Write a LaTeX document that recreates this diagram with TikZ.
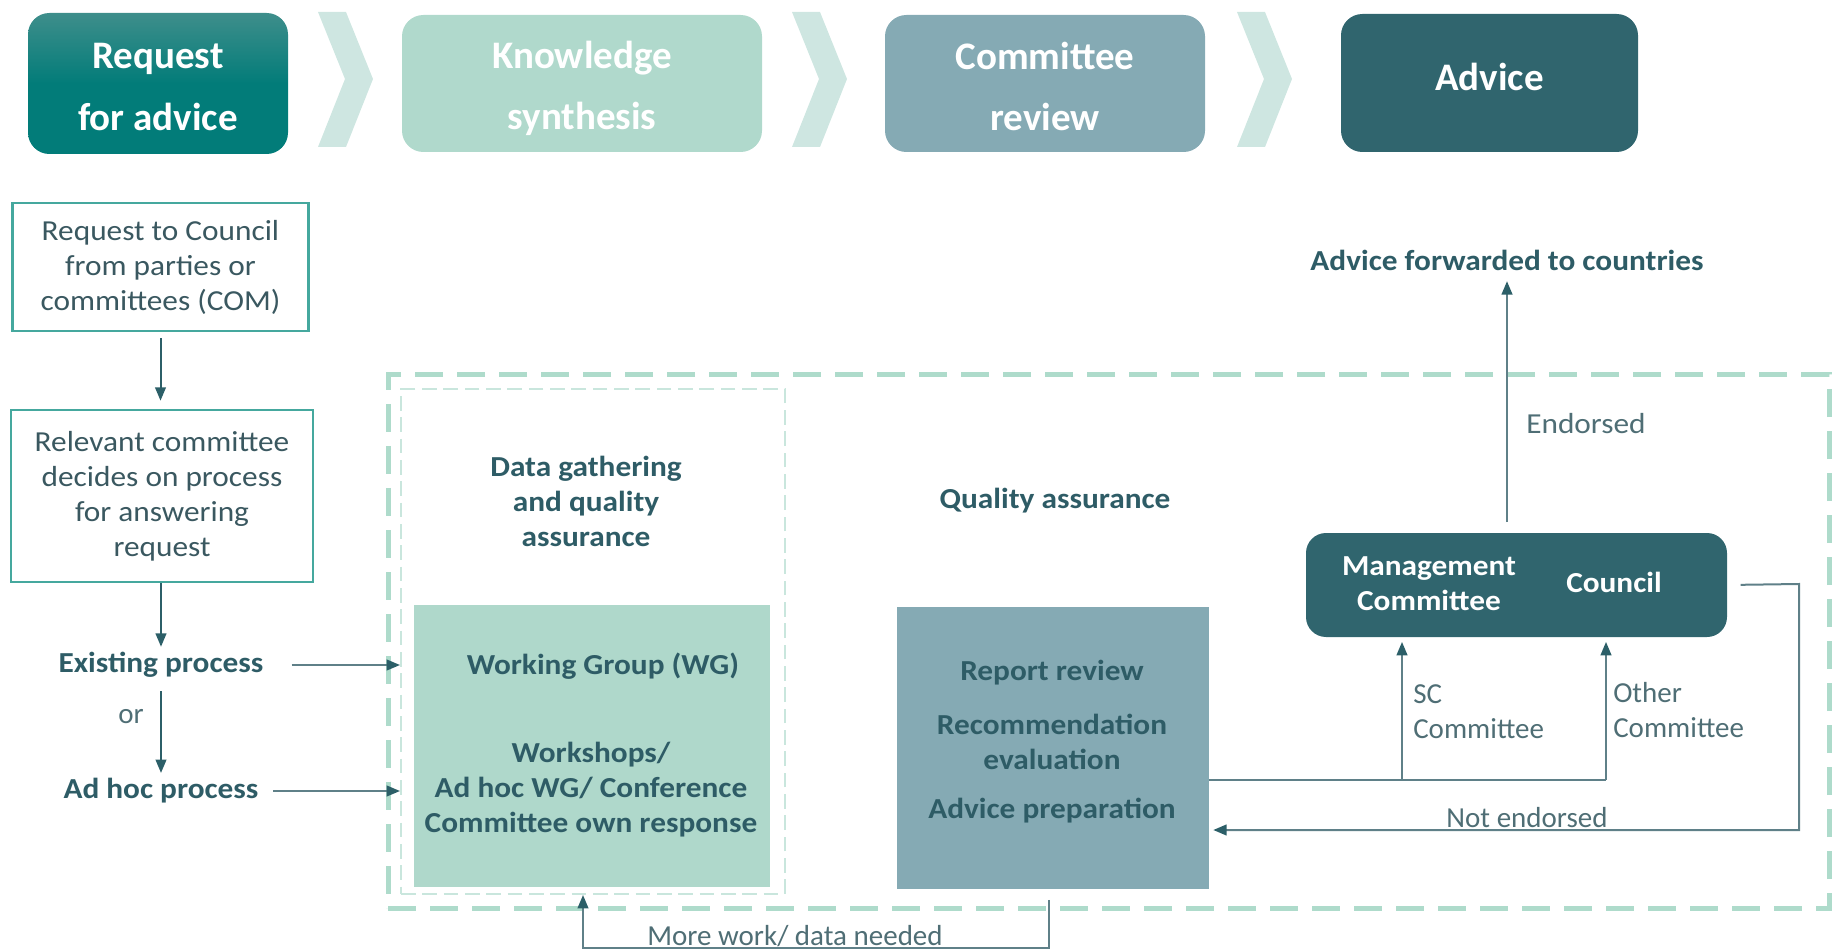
\documentclass[tikz,border=0pt]{standalone}
\usepackage{fontspec}
\setmainfont{Carlito}
\newfontfamily\wideFont{Carlito}[FakeStretch=1.08]
\usetikzlibrary{arrows.meta,calc}
\def\pxu{0.75pt}
\definecolor{reqtop}{HTML}{3E8E8B}
\definecolor{reqbot}{HTML}{027C79}
\definecolor{knowc}{HTML}{B0D9CC}
\definecolor{revc}{HTML}{85AAB4}
\definecolor{advc}{HTML}{30656E}
\definecolor{chevc}{HTML}{CEE6E1}
\definecolor{wgc}{HTML}{AFD8CB}
\definecolor{lboxc}{HTML}{45A89E}
\definecolor{lboxtext}{HTML}{3A5860}
\definecolor{darkt}{HTML}{2E5C66}
\definecolor{greyt}{HTML}{4F6E75}
\definecolor{linec}{HTML}{5F8088}
\definecolor{tipc}{HTML}{2C5F68}
\definecolor{outerc}{HTML}{AEDBCB}
\definecolor{innerc}{HTML}{C9E6DD}
\newcommand\myTitleFont{\fontsize{29.25}{46}\selectfont\bfseries}
\newcommand\myBodyFont{\fontsize{21.75}{26.25}\selectfont}
\newcommand\myWideFont{\wideFont\fontsize{21.75}{26.25}\selectfont}
\newcommand\myBoldFont{\wideFont\fontsize{21.75}{26.25}\selectfont\bfseries}
\tikzset{
  titlebox/.style={rounded corners=16pt, text=white, font=\myTitleFont, align=center, inner sep=0pt},
  lbox/.style={draw=lboxc, line width=2pt, align=center, font=\myWideFont, text=lboxtext, inner sep=0pt},
  blbl/.style={font=\myBoldFont, text=darkt, align=center, inner sep=0pt},
  rlbl/.style={font=\myBodyFont, text=greyt, align=left, inner sep=0pt},
  wlbl/.style={font=\myBoldFont, text=white, align=center, inner sep=0pt},
  plainbox/.style={inner sep=0pt},
  arr/.style={draw=linec, line width=1.5pt, -{Triangle[length=10pt,width=8pt,color=tipc]}},
  darr/.style={draw=tipc, line width=1.5pt, -{Triangle[length=10pt,width=8pt,color=tipc]}},
  ln/.style={draw=linec, line width=1.5pt},
  chev/.style={fill=chevc},
  outerdash/.style={draw=outerc, line width=3.75pt, dash pattern=on 21pt off 10.5pt, inner sep=0pt},
  innerdash/.style={draw=innerc, line width=1.5pt, dash pattern=on 11pt off 5pt, inner sep=0pt},
}
\begin{document}
\begin{tikzpicture}[x=0.75pt,y=-0.75pt]
\useasboundingbox (0,0) rectangle (1832,952);
% top banner
\node[titlebox, top color=reqtop, bottom color=reqbot, middle color=reqbot, minimum width=260*\pxu, minimum height=141*\pxu] (req) at (158,83.5) {\rule{0pt}{24pt}Request\\for advice};
\node[titlebox, fill=knowc, minimum width=360*\pxu, minimum height=137*\pxu] (know) at (582,83.5) {\rule{0pt}{28pt}Knowledge\\synthesis};
\node[titlebox, fill=revc, minimum width=320*\pxu, minimum height=137*\pxu] (rev) at (1045,83.5) {\rule{0pt}{25pt}Committee\\review};
\node[titlebox, fill=advc, minimum width=297*\pxu, minimum height=138*\pxu] (adv) at (1489.5,83) {\raisebox{10pt}{Advice}};
\foreach \cx in {318,792,1237}{
  \fill[chev] (\cx,12) -- ++(28,0) -- ++(27,67) -- ++(-27,68) -- ++(-28,0) -- ++(27,-68) -- cycle;
}
% dashed frames
\node[outerdash, minimum width=1441*\pxu, minimum height=533*\pxu] (qa) at (1108.5,641.5) {};
\node[innerdash, minimum width=384*\pxu, minimum height=505*\pxu] (dg) at (593,641.5) {};
% left column
\node[lbox, minimum width=296*\pxu, minimum height=128*\pxu] (rtc) at (160.5,267) {Request to Council\\from parties or\\committees (COM)};
\node[lbox, minimum width=302*\pxu, minimum height=172*\pxu] (rel) at (162,496) {Relevant committee\\decides on process\\for answering\\request};
\node[blbl] (ex) at (161,665) {Existing process};
\node[rlbl] (or) at (131,717) {or};
\node[blbl] (ah) at (161,791) {Ad hoc process};
% knowledge synthesis
\node[blbl] (dgt) at (586,501) {Data gathering\\and quality\\assurance};
\node[plainbox, fill=wgc, minimum width=356*\pxu, minimum height=282*\pxu] (wg) at (592,746) {};
\node[blbl] (wgt) at (603,666) {Working Group (WG)};
\node[blbl] (wst) at (591,790) {Workshops/\\Ad hoc WG/ Conference\\Committee own response};
% committee review
\node[blbl] (qat) at (1055,501) {Quality assurance};
\node[plainbox, fill=revc, minimum width=312*\pxu, minimum height=282*\pxu] (rep) at (1053,748) {};
\node[blbl] (rrt) at (1052,673) {Report review};
\node[blbl] (ret) at (1052,742) {Recommendation\\evaluation};
\node[blbl] (apt) at (1052,811) {Advice preparation};
% advice
\node[plainbox, fill=advc, rounded corners=15pt, minimum width=421*\pxu, minimum height=104*\pxu] (mgmt) at (1516.5,585) {};
\node[wlbl] (mct) at (1429,583.5) {Management\\Committee};
\node[wlbl] (cot) at (1614,582) {Council};
\node[blbl] (fwd) at (1507,260) {Advice forwarded to countries};
\node[rlbl, anchor=west, font=\myWideFont] (endt) at (1526,424) {Endorsed};
\node[rlbl, anchor=west] (sct) at (1413,712) {SC\\Committee};
\node[rlbl, anchor=west] (ott) at (1613,710) {Other\\Committee};
\node[rlbl] (net) at (1527,818) {Not endorsed};
\node[rlbl] (mwt) at (795,936) {More work/ data needed};
% coordinates
\coordinate (scj) at (1402,780);
\coordinate (otj) at (1606,780);
\coordinate (ne1) at (1799,584);
\coordinate (ne2) at (1799,830);
\coordinate (mw1) at (1049,948);
\coordinate (mw2) at (583,948);
% connectors
\draw[darr, shorten <=4.5pt, shorten >=6pt] (rtc.south) -- (rtc.south |- rel.north);
\draw[darr, shorten >=4pt] (rel.south -| ex.north) -- (ex.north);
\draw[darr, shorten <=10pt, shorten >=4pt] (ex.south) -- (ah.north);
\draw[arr, shorten <=21pt] (ex.east) -- (ex.east -| dg.west);
\draw[arr, shorten <=11pt] (ah.east) -- (ah.east -| dg.west);
\draw[ln] (rep.east |- scj) -- (otj);
\draw[arr, shorten >=3.5pt] (scj) -- (scj |- mgmt.south);
\draw[arr, shorten >=3.5pt] (otj) -- (otj |- mgmt.south);
\draw[arr, shorten <=10pt, shorten >=3pt] (mgmt.east) -- (ne1) -- (ne2) -- (ne2 -| rep.east);
\draw[arr, shorten <=8pt] (rep.south -| mw1) -- (mw1) -- (mw2) -- (mw2 |- dg.south);
\draw[arr, shorten <=8pt, shorten >=8pt] (fwd.south |- mgmt.north) -- (fwd.south);
\end{tikzpicture}
\end{document}
